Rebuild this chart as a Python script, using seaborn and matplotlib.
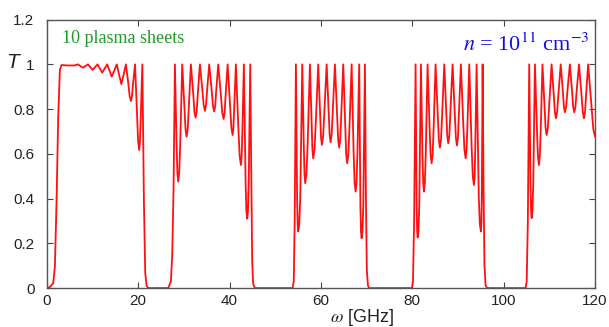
import matplotlib
matplotlib.use("Agg")
import matplotlib.pyplot as plt
import seaborn as sns
import pandas as pd

# Frequency (GHz) and transmission T, band by band
band1_w = [0.0, 0.66, 1.39, 1.75, 2.12, 2.48, 2.85, 3.21, 4.5, 6.0, 6.8, 7.9, 9.0, 10.0, 11.1,
           12.1, 13.2, 13.7, 14.2, 14.75, 15.3, 15.8, 16.3, 16.8, 17.3, 17.85, 18.125, 18.4,
           18.625, 18.85, 19.3, 19.75, 19.975, 20.2, 20.375, 20.55, 20.9,
           21.24, 21.53, 21.83, 22.2]
band1_T = [0.0, 0.005, 0.022, 0.096, 0.39, 0.77, 0.975, 0.997, 0.995, 0.995, 1.0, 0.985, 1.0, 0.975, 1.0,
           0.963, 1.0, 0.972, 0.945, 0.972, 1.0, 0.954, 0.912, 0.954, 1.0, 0.911, 0.857, 0.836,
           0.857, 0.911, 1.0, 0.763, 0.654, 0.617, 0.654, 0.763, 1.0,
           0.39, 0.067, 0.01, 0.0]

band2_w = [26.57, 27.15, 27.44, 27.73, 28.03,
           28.39, 28.57, 28.75, 28.97, 29.19, 29.63,
           30.11, 30.35, 30.59, 30.83, 31.06, 31.53,
           32.05, 32.30, 32.56, 32.80, 33.03, 33.5,
           34.05, 34.33, 34.6, 34.84, 35.07, 35.54,
           36.09, 36.36, 36.63, 36.85, 37.07, 37.51,
           38.10, 38.40, 38.69, 38.91, 39.13, 39.57,
           40.12, 40.39, 40.66, 40.84, 41.02, 41.38,
           41.93, 42.21, 42.48, 42.64, 42.81, 43.13,
           43.50, 43.68, 43.86, 44.02, 44.19, 44.52,
           44.75, 44.95, 45.15, 45.5]
band2_T = [0.0, 0.03, 0.149, 0.446, 1.0,
           0.645, 0.515, 0.476, 0.515, 0.645, 1.0,
           0.807, 0.711, 0.677, 0.711, 0.807, 1.0,
           0.865, 0.789, 0.762, 0.789, 0.865, 1.0,
           0.884, 0.817, 0.792, 0.817, 0.884, 1.0,
           0.882, 0.814, 0.789, 0.814, 0.882, 1.0,
           0.861, 0.784, 0.756, 0.784, 0.861, 1.0,
           0.812, 0.717, 0.684, 0.717, 0.812, 1.0,
           0.710, 0.589, 0.55, 0.589, 0.710, 1.0,
           0.473, 0.345, 0.31, 0.345, 0.473, 1.0,
           0.5, 0.12, 0.02, 0.0]

band3_w = [53.8, 54.05, 54.25, 54.52,
           54.78, 54.90, 55.03, 55.25, 55.47, 55.91,
           56.24, 56.40, 56.56, 56.82, 57.08, 57.59,
           57.95, 58.13, 58.31, 58.59, 58.86, 59.41,
           59.81, 60.01, 60.21, 60.47, 60.73, 61.25,
           61.68, 61.90, 62.11, 62.35, 62.59, 63.06,
           63.53, 63.77, 64.0, 64.22, 64.44, 64.88,
           65.32, 65.53, 65.75, 65.99, 66.24, 66.72,
           67.16, 67.37, 67.59, 67.79, 67.99, 68.38,
           68.64, 68.77, 68.9, 69.08, 69.27, 69.63,
           69.85, 70.05, 70.3, 70.6]
band3_T = [0.0, 0.03, 0.3, 1.0,
           0.404, 0.284, 0.253, 0.284, 0.404, 1.0,
           0.639, 0.508, 0.469, 0.508, 0.639, 1.0,
           0.734, 0.618, 0.58, 0.618, 0.734, 1.0,
           0.780, 0.676, 0.64, 0.676, 0.780, 1.0,
           0.789, 0.687, 0.652, 0.687, 0.789, 1.0,
           0.772, 0.664, 0.628, 0.664, 0.772, 1.0,
           0.716, 0.596, 0.558, 0.596, 0.716, 1.0,
           0.602, 0.470, 0.431, 0.470, 0.602, 1.0,
           0.365, 0.252, 0.223, 0.252, 0.365, 1.0,
           0.4, 0.08, 0.01, 0.0]

band4_w = [79.9, 80.15, 80.4, 80.72,
           80.95, 81.06, 81.17, 81.35, 81.53, 81.89,
           82.22, 82.39, 82.55, 82.75, 82.95, 83.35,
           83.79, 84.01, 84.23, 84.45, 84.67, 85.1,
           85.58, 85.81, 86.05, 86.29, 86.53, 87.0,
           87.44, 87.65, 87.87, 88.11, 88.35, 88.82,
           89.30, 89.54, 89.78, 90.00, 90.21, 90.64,
           91.16, 91.42, 91.68, 91.88, 92.08, 92.47,
           92.99, 93.24, 93.5, 93.65, 93.79, 94.08,
           94.56, 94.79, 95.03, 95.12, 95.22, 95.4,
           95.6, 95.8, 96.05, 96.4]
band4_T = [0.0, 0.03, 0.3, 1.0,
           0.369, 0.255, 0.226, 0.255, 0.369, 1.0,
           0.602, 0.470, 0.431, 0.470, 0.602, 1.0,
           0.716, 0.596, 0.558, 0.596, 0.716, 1.0,
           0.772, 0.664, 0.628, 0.664, 0.772, 1.0,
           0.786, 0.682, 0.647, 0.682, 0.786, 1.0,
           0.778, 0.673, 0.637, 0.673, 0.778, 1.0,
           0.734, 0.618, 0.58, 0.618, 0.734, 1.0,
           0.631, 0.500, 0.461, 0.500, 0.631, 1.0,
           0.404, 0.284, 0.253, 0.284, 0.404, 1.0,
           0.45, 0.1, 0.01, 0.0]

band5_w = [104.8, 105.05, 105.3, 105.6,
           105.87, 106.0, 106.13, 106.31, 106.49, 106.85,
           107.29, 107.51, 107.73, 107.92, 108.12, 108.5,
           108.96, 109.18, 109.41, 109.68, 109.96, 110.5,
           110.98, 111.21, 111.45, 111.71, 111.98, 112.5,
           112.96, 113.19, 113.42, 113.69, 113.96, 114.5,
           114.98, 115.22, 115.46, 115.72, 115.98, 116.5,
           117.05, 117.32, 117.59, 117.82, 118.05, 118.5,
           119.25, 119.63, 120.0]
band5_T = [0.0, 0.03, 0.3, 1.0,
           0.476, 0.347, 0.3125, 0.347, 0.476, 1.0,
           0.710, 0.589, 0.55, 0.589, 0.710, 1.0,
           0.812, 0.717, 0.684, 0.717, 0.812, 1.0,
           0.863, 0.787, 0.759, 0.787, 0.863, 1.0,
           0.880, 0.811, 0.786, 0.811, 0.880, 1.0,
           0.880, 0.811, 0.786, 0.811, 0.880, 1.0,
           0.863, 0.787, 0.759, 0.787, 0.863, 1.0,
           0.807, 0.711, 0.677]

x_ticks = [0, 20, 40, 60, 80, 100, 120]
y_ticks = [0, 0.2, 0.4, 0.6, 0.8, 1.0, 1.2]
y_tick_labels = ["0", "0.2", "0.4", "0.6", "0.8", "1", "1.2"]

sns.set_style("ticks")
plt.rcParams["font.family"] = ["Liberation Sans", "DejaVu Sans"]
plt.rcParams["mathtext.fontset"] = "stix"

w = band1_w + band2_w + band3_w + band4_w + band5_w
T = band1_T + band2_T + band3_T + band4_T + band5_T
df = pd.DataFrame({"w": w, "T": T})

fig = plt.figure(figsize=(6.09, 3.27), dpi=100)
ax = fig.add_axes([0.077, 0.119, 0.900, 0.821])

sns.lineplot(data=df, x="w", y="T", ax=ax, color="#ff1010", linewidth=1.3,
             estimator=None, sort=False)

ax.set_xlim(0, 120)
ax.set_ylim(0, 1.2)
ax.set_xticks(x_ticks)
ax.set_yticks(y_ticks)
ax.set_yticklabels(y_tick_labels)
ax.tick_params(direction="in", top=True, right=True, length=4, width=0.8,
               labelsize=11, colors="#444444", labelcolor="#222222")
ax.tick_params(axis="y", pad=9)
ax.tick_params(axis="x", pad=4)
for s in ax.spines.values():
    s.set_color("#555555")
    s.set_linewidth(1.0)

ax.set_xlabel("")
ax.set_ylabel("")
fig.text(0.594, 0.028, r"$\omega$ [GHz]", ha="center", va="center", fontsize=13,
         color="#222222")
fig.text(0.021, 0.81, "T", ha="center", va="center", fontsize=15, style="italic",
         color="#222222")

ax.text(3.3, 1.096, "10 plasma sheets", ha="left", va="baseline",
        fontsize=13, color="#1e9a2a", family=["Liberation Serif", "DejaVu Serif"])
ax.text(118.9, 1.059, r"$n$ = 10$^{11}$ cm$^{-3}$", ha="right", va="baseline",
        fontsize=16, color="#1010e0", family=["Liberation Serif", "DejaVu Serif"])

fig.savefig("out.png", dpi=100)
